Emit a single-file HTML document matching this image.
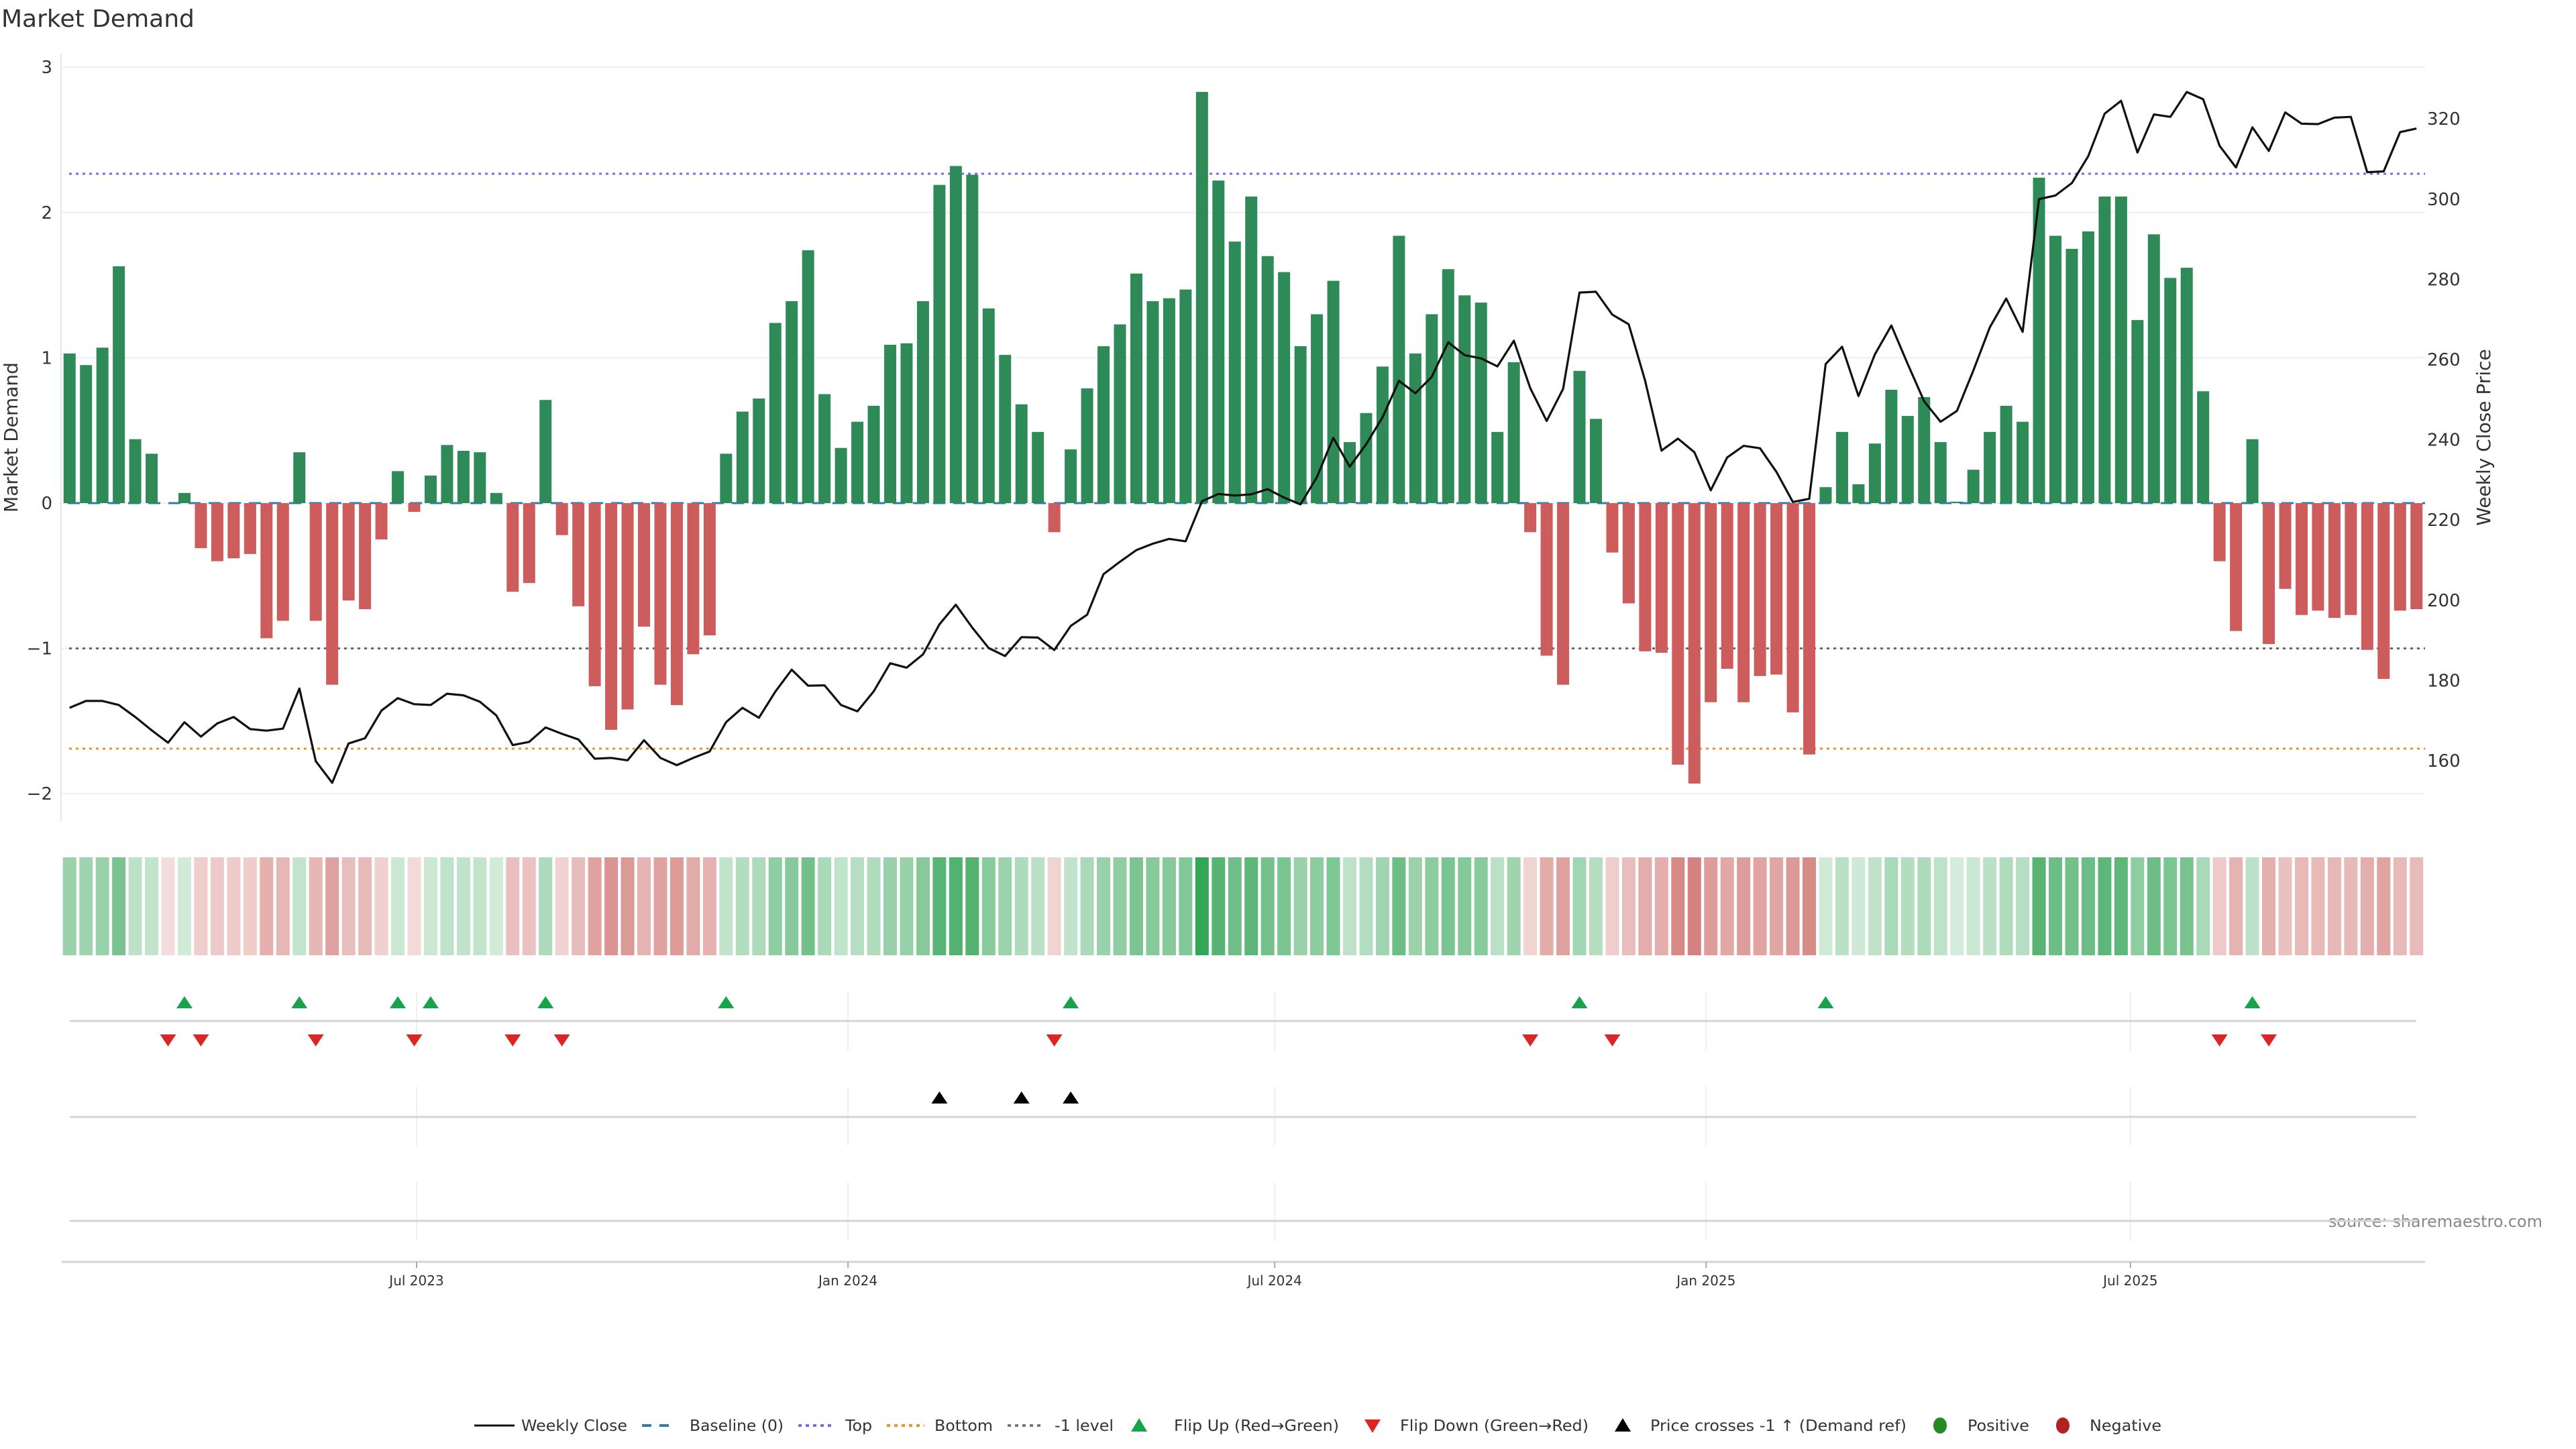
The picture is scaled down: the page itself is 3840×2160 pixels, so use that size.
<!DOCTYPE html>
<html><head><meta charset="utf-8"><style>
html,body{margin:0;padding:0;background:#fff;}
svg{display:block;font-family:"DejaVu Sans","Liberation Sans",sans-serif;}
</style></head><body>
<svg id="chart" width="3840" height="2160" viewBox="0 0 3840 2160" xmlns="http://www.w3.org/2000/svg">
<rect x="0" y="0" width="3840" height="2160" fill="#fff"/>
<text x="2" y="40" font-size="36" fill="#333">Market Demand</text>
<text transform="translate(26,652) rotate(-90)" text-anchor="middle" font-size="28" fill="#333">Market Demand</text>
<text transform="translate(3712,652) rotate(-90)" text-anchor="middle" font-size="28" fill="#333">Weekly Close Price</text>
<text x="3790" y="1829" text-anchor="end" font-size="24" fill="#888">source: sharemaestro.com</text>
<g id="grid"></g><g id="heat"></g><g id="lines"></g><g id="bars"></g><g id="price"></g><g id="markers"></g><g id="axes"></g><g id="legend"></g>
</svg>
<script>
const demand = [1.03,0.95,1.07,1.63,0.44,0.34,0.0,0.07,-0.31,-0.40,-0.38,-0.35,-0.93,-0.81,0.35,-0.81,-1.25,-0.67,-0.73,-0.25,
0.22,-0.06,0.19,0.40,0.36,0.35,0.07,-0.61,-0.55,0.71,-0.22,-0.71,-1.26,-1.56,-1.42,-0.85,-1.25,-1.39,-1.04,-0.91,
0.34,0.63,0.72,1.24,1.39,1.74,0.75,0.38,0.56,0.67,1.09,1.10,1.39,2.19,2.32,2.26,1.34,1.02,0.68,0.49,
-0.20,0.37,0.79,1.08,1.23,1.58,1.39,1.41,1.47,2.83,2.22,1.80,2.11,1.70,1.59,1.08,1.30,1.53,0.42,0.62,
0.94,1.84,1.03,1.30,1.61,1.43,1.38,0.49,0.97,-0.20,-1.05,-1.25,0.91,0.58,-0.34,-0.69,-1.02,-1.03,-1.80,-1.93,
-1.37,-1.14,-1.37,-1.19,-1.18,-1.44,-1.73,0.11,0.49,0.13,0.41,0.78,0.60,0.73,0.42,0.01,0.23,0.49,0.67,0.56,
2.24,1.84,1.75,1.87,2.11,2.11,1.26,1.85,1.55,1.62,0.77,-0.40,-0.88,0.44,-0.97,-0.59,-0.77,-0.74,-0.79,-0.77,
-1.01,-1.21,-0.74,-0.73];
const closePrice = [173.2,174.9,174.9,173.9,170.9,167.6,164.5,169.6,166,169.3,170.9,167.9,167.5,168,178,159.9,154.5,164.3,165.6,172.5,
175.6,174.1,173.9,176.7,176.3,174.7,171.3,163.9,164.7,168.3,166.7,165.3,160.5,160.7,160.1,165.1,160.7,158.9,160.7,162.3,
169.6,173.2,170.7,177.2,182.7,178.7,178.8,173.9,172.3,177.3,184.3,183.2,186.5,194,198.9,193.2,188.1,186.1,190.8,190.7,
187.6,193.6,196.4,206.5,209.6,212.5,214.1,215.3,214.7,224.7,226.5,226.1,226.4,227.7,225.6,223.9,230.7,240.5,233.3,238.9,
245.6,254.7,251.6,255.7,264.3,261.1,260.3,258.3,264.7,252.9,244.7,252.7,276.7,276.9,271.2,268.8,254.7,237.3,240.3,236.9,
227.4,235.6,238.5,237.9,232,224.5,225.3,258.9,263.2,250.9,261.3,268.5,258.9,249.6,244.5,247.2,257.3,268,275.2,266.9,
300,300.9,304,310.7,321.3,324.5,311.6,321.1,320.5,326.7,324.9,313.3,307.9,317.9,312,321.6,318.8,318.7,320.3,320.5,
306.7,306.9,316.7,317.6];
const flipUpIdx = [7,14,20,22,29,40,61,92,107,133];
const flipDownIdx = [6,8,15,21,27,30,60,89,94,131,134];
const crossIdx = [53,58,61];
const leftTicks = [3,2,1,0,-1,-2];
const rightTicks = [160,180,200,220,240,260,280,300,320];
const xTickLabels = ["Jul 2023","Jan 2024","Jul 2024","Jan 2025","Jul 2025"];
const xTickDates = ["2023-07-01","2024-01-01","2024-07-01","2025-01-01","2025-07-01"];
const refTop = 2.267, refBottom = -1.69, refMinus1 = -1;
const startDate = "2023-02-03";

const NS="http://www.w3.org/2000/svg";
function mk(parent,tag,attrs){const e=document.createElementNS(NS,tag);for(const k in attrs)e.setAttribute(k,attrs[k]);parent.appendChild(e);return e;}
const DAY=86400000, ORIGIN=Date.parse("2023-07-01");
function xDate(s){return 621+(Date.parse(s)-ORIGIN)/DAY*3.495;}
function xIdx(i){return 621+(Date.parse(startDate)+i*7*DAY-ORIGIN)/DAY*3.495;}
function yL(v){return 750-v*216.6;}
function yR(p){return 1134-(p-160)*5.98;}
const PL=91, PR=3615;

const grid=document.getElementById('grid');
leftTicks.forEach(t=>{
  const l=mk(grid,'line',{x1:PL,x2:PR,y1:yL(t),y2:yL(t),stroke:'#eceff3','stroke-width':2});
  
  
  const tx=mk(grid,'text',{x:78,y:yL(t)+9,'text-anchor':'end','font-size':26,fill:'#333'});
  tx.textContent=t<0?'\u2212'+Math.abs(t):String(t);
  
  
});
rightTicks.forEach(t=>{
  const tx=mk(grid,'text',{x:3618,y:yR(t)+9,'font-size':26,fill:'#333'});
  tx.textContent=String(t);
  
  
});
const ax=mk(grid,'line',{x1:PL,x2:PL,y1:80,y2:1224,stroke:'#e3e6ea','stroke-width':2});



const heat=document.getElementById('heat');
demand.forEach((v,i)=>{
  const a=Math.min(1,0.2+0.8*Math.abs(v)/2.9);
  let col;
  if(v>0){col=`rgb(${Math.round(255-(255-49)*a)},${Math.round(255-(255-163)*a)},${Math.round(255-(255-84)*a)})`;}
  else{col=`rgb(${Math.round(255-(255-196)*a)},${Math.round(255-(255-85)*a)},${Math.round(255-(255-80)*a)})`;}
  const r=mk(heat,'rect',{x:xIdx(i)-10,y:1278,width:20,height:146,fill:col});
  
  
});

const lines=document.getElementById('lines');
const base=mk(lines,'line',{x1:PL+10,x2:PR,y1:yL(0),y2:yL(0),stroke:'#2f7bb0','stroke-width':3,'stroke-dasharray':'18,12'});


[[refTop,'#7b68ee','top-line'],[refMinus1,'#666','minus-one-line'],[refBottom,'#f0902a','bottom-line']].forEach(r=>{
  const l=mk(lines,'line',{x1:PL+12,x2:PR,y1:yL(r[0]),y2:yL(r[0]),stroke:r[1],'stroke-width':3,'stroke-dasharray':'4,6'});
  
  
});

const bars=document.getElementById('bars');
demand.forEach((v,i)=>{
  if(v===0)return;
  const y0=yL(0), y1=yL(v);
  const b=mk(bars,'rect',{x:xIdx(i)-9,y:Math.min(y0,y1),width:18,height:Math.abs(y1-y0),fill:v>0?'#2e8b57':'#cd5c5c'});
  
  
});

const pg=document.getElementById('price');
const pts=closePrice.map((p,i)=>xIdx(i).toFixed(1)+','+yR(p).toFixed(1)).join(' ');
const pl=mk(pg,'polyline',{points:pts,fill:'none',stroke:'#111','stroke-width':3.2,'stroke-linejoin':'round'});



const mg=document.getElementById('markers');
[[1478,1566],[1620,1708],[1762,1850]].forEach(s=>{
  xTickDates.forEach(d=>{
    const l=mk(mg,'line',{x1:xDate(d),x2:xDate(d),y1:s[0],y2:s[1],stroke:'#eceff3','stroke-width':2});
    
    
  });
});
[1522,1665,1820].forEach(y=>{
  const l=mk(mg,'line',{x1:104,x2:3602,y1:y,y2:y,stroke:'#d4d4d4','stroke-width':3});
  
  
});
function tri(cx,cy,up,col,name){
  const p=up?`${cx-12},${cy+9} ${cx+12},${cy+9} ${cx},${cy-9}`:`${cx-12},${cy-9} ${cx+12},${cy-9} ${cx},${cy+9}`;
  const t=mk(mg,'polygon',{points:p,fill:col});
  
  
}
flipUpIdx.forEach(i=>tri(xIdx(i),1494,true,'#16a34a','flip-up-marker'));
flipDownIdx.forEach(i=>tri(xIdx(i),1551,false,'#dc2626','flip-down-marker'));
crossIdx.forEach(i=>tri(xIdx(i),1636,true,'#000','price-cross-marker'));

const axg=document.getElementById('axes');
const xa=mk(axg,'line',{x1:92,x2:3615,y1:1881,y2:1881,stroke:'#d4d4d4','stroke-width':3});


xTickDates.forEach((d,k)=>{
  const x=xDate(d);
  const tk=mk(axg,'line',{x1:x,x2:x,y1:1881,y2:1890,stroke:'#aaa','stroke-width':2});
  
  
  const t=mk(axg,'text',{x:x,y:1916,'text-anchor':'middle','font-size':20,fill:'#333'});
  t.textContent=xTickLabels[k];
  
  
});

const lg=document.getElementById('legend');
const LY=2125;
function ltext(x,w,s){const t=mk(lg,'text',{x:x,y:LY+8,'font-size':23,fill:'#333',textLength:w,lengthAdjust:'spacingAndGlyphs'});t.textContent=s;}
let e;
e=mk(lg,'line',{x1:707,x2:767,y1:LY,y2:LY,stroke:'#111','stroke-width':3});
ltext(777,158,'Weekly Close');
e=mk(lg,'line',{x1:957,x2:1002,y1:LY,y2:LY,stroke:'#2f7bb0','stroke-width':4,'stroke-dasharray':'14,12'});
ltext(1028,140,'Baseline (0)');
e=mk(lg,'line',{x1:1190,x2:1245,y1:LY,y2:LY,stroke:'#7b68ee','stroke-width':4,'stroke-dasharray':'5,6'});
ltext(1260,40,'Top');
e=mk(lg,'line',{x1:1322,x2:1378,y1:LY,y2:LY,stroke:'#f0902a','stroke-width':4,'stroke-dasharray':'5,6'});
ltext(1393,87,'Bottom');
e=mk(lg,'line',{x1:1502,x2:1556,y1:LY,y2:LY,stroke:'#777','stroke-width':4,'stroke-dasharray':'5,6'});
ltext(1572,88,'-1 level');
e=mk(lg,'polygon',{points:`1686,${LY+9} 1710,${LY+9} 1698,${LY-11}`,fill:'#16a34a'});
ltext(1750,246,'Flip Up (Red\u2192Green)');
e=mk(lg,'polygon',{points:`2034,${LY-9} 2058,${LY-9} 2046,${LY+11}`,fill:'#dc2626'});
ltext(2087,281,'Flip Down (Green\u2192Red)');
e=mk(lg,'polygon',{points:`2407,${LY+9} 2431,${LY+9} 2419,${LY-11}`,fill:'#000'});
ltext(2460,382,'Price crosses -1 \u2191 (Demand ref)');
e=mk(lg,'ellipse',{cx:2892,cy:LY,rx:10,ry:12,fill:'#228b22'});
ltext(2933,92,'Positive');
e=mk(lg,'ellipse',{cx:3075,cy:LY,rx:10,ry:12,fill:'#b22222'});
ltext(3115,107,'Negative');
</script>
</body></html>
